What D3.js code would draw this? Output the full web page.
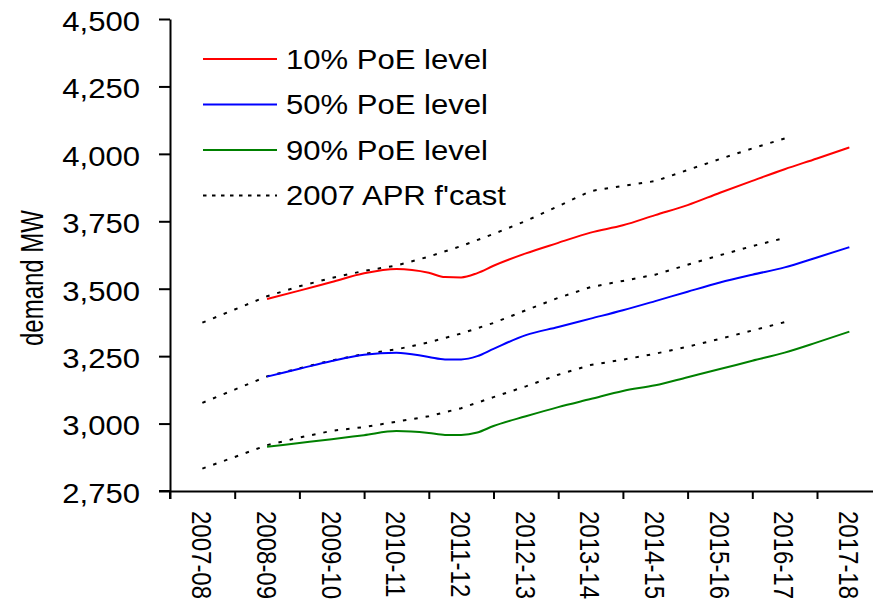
<!DOCTYPE html>
<meta charset="utf-8">
<script src="https://d3js.org/d3.v7.min.js"></script>
<style>
  body { margin: 0; background: #fff; }
  text { font-family: "Liberation Sans", Arial, sans-serif; fill: #000; }
</style>
<div id="chart"></div>
<script>
// categories (financial years)
var years = ["2007-08", "2008-09", "2009-10", "2010-11", "2011-12", "2012-13",
             "2013-14", "2014-15", "2015-16", "2016-17", "2017-18"];

// positions (in years from 2007-08) where the PoE series were read
var poeSteps = [1, 1.5, 2, 2.5, 3, 3.5, 3.75, 4, 4.25, 4.5, 5, 5.5, 6, 6.5, 7, 7.5, 8, 8.5, 9, 9.5, 10];
var poe10 = [3462, 3493, 3525, 3557, 3573, 3559, 3543, 3542, 3558, 3585, 3631, 3670, 3708, 3735, 3773, 3810, 3856, 3900, 3943, 3983, 4024];
var poe50 = [3174, 3203, 3232, 3255, 3263, 3247, 3238, 3238, 3250, 3277, 3328, 3358, 3389, 3420, 3454, 3489, 3523, 3552, 3579, 3616, 3654];
var poe90 = [2914, 2928, 2942, 2957, 2972, 2965, 2958, 2958, 2967, 2991, 3027, 3061, 3091, 3121, 3142, 3172, 3202, 3233, 3263, 3301, 3341];

// 2007 APR forecast (dotted), three levels
var aprSteps = [0, 0.5, 1, 1.5, 2, 2.5, 3, 3.5, 4, 4.5, 5, 5.5, 6, 6.5, 7, 7.5, 8, 8.5, 9];
var apr10 = [3374, 3423, 3472, 3509, 3540, 3566, 3586, 3619, 3658, 3703, 3751, 3806, 3862, 3881, 3899, 3940, 3981, 4020, 4057];
var apr50 = [3077, 3126, 3175, 3205, 3234, 3258, 3275, 3301, 3334, 3373, 3420, 3466, 3506, 3529, 3552, 3589, 3624, 3658, 3688];
var apr90 = [2833, 2876, 2920, 2948, 2973, 2987, 3007, 3027, 3057, 3098, 3138, 3181, 3217, 3237, 3259, 3285, 3314, 3345, 3376];

var yTicks = [2750, 3000, 3250, 3500, 3750, 4000, 4250, 4500];
var legendLabels = ["10% PoE level", "50% PoE level", "90% PoE level", "2007 APR f'cast"];

var W = 873, H = 604;
var sx = 1.15; // the original text is a bit wide
var svg = d3.select("#chart").append("svg")
    .attr("width", W).attr("height", H);

var x = d3.scaleLinear().domain([-0.5, 10.5]).range([170, 881.7]);
var y = d3.scaleLinear().domain([2750, 4500]).range([491, 19]);

// y axis
var yAxis = svg.append("g")
    .attr("transform", "translate(170,0)")
    .call(d3.axisLeft(y).tickValues(yTicks).tickSize(11).tickSizeOuter(0)
        .tickFormat(d3.format(",")));
yAxis.selectAll("text")
    .style("font-size", "27px")
    .attr("x", 0).attr("dy", "0.42em")
    .attr("transform", "translate(-30,0) scale(" + sx + ",1)");

// x axis: ticks at the boundaries
svg.append("g")
    .attr("transform", "translate(0,491)")
    .call(d3.axisBottom(x).tickValues(d3.range(-0.5, 11, 1)).tickSize(8)
        .tickSizeOuter(0).tickFormat(""));
svg.append("line").attr("x1", 159).attr("x2", 170).attr("y1", 491).attr("y2", 491);
svg.append("line").attr("x1", 170).attr("x2", 170).attr("y1", 491).attr("y2", 499);
svg.selectAll("line").attr("stroke", "#000").attr("stroke-width", 2);
svg.selectAll(".domain").attr("stroke-width", 2);

// category labels
var xLab = svg.append("g")
    .attr("transform", "translate(0,491)")
    .call(d3.axisBottom(x).tickValues(d3.range(0, 11)).tickSize(0)
        .tickFormat(function (i) { return years[i]; }));
xLab.select(".domain").remove();
xLab.selectAll("text")
    .style("font-size", "24px")
    .attr("text-anchor", "start")
    .attr("x", 0).attr("y", 0).attr("dy", "0.35em")
    .attr("transform", "translate(-1,20) scale(" + sx + ",1) rotate(90)");

// y axis title
svg.append("text")
    .attr("transform", "translate(32,278) scale(1.3,1) rotate(-90)")
    .attr("text-anchor", "middle")
    .attr("dy", "0.35em")
    .style("font-size", "24px")
    .text("demand MW");

function lineFor(steps, curve) {
  return d3.line()
      .x(function (d, i) { return x(steps[i]); })
      .y(function (d) { return y(d); })
      .curve(curve);
}

var poeLine = lineFor(poeSteps, d3.curveMonotoneX);
var aprLine = lineFor(aprSteps, d3.curveLinear);

[apr10, apr50, apr90].forEach(function (s) {
  svg.append("path").datum(s).attr("d", aprLine)
      .attr("fill", "none").attr("stroke", "#000")
      .attr("stroke-width", 2).attr("stroke-dasharray", "3.5,8");
});

var poeSeries = [[poe10, "#ff0000"], [poe50, "#0000ff"], [poe90, "#008000"]];
poeSeries.forEach(function (s) {
  svg.append("path").datum(s[0]).attr("d", poeLine)
      .attr("fill", "none").attr("stroke", s[1]).attr("stroke-width", 2);
});

// legend
var legendColors = ["#ff0000", "#0000ff", "#008000", "#000"];
var lg = svg.append("g");
legendLabels.forEach(function (t, i) {
  var ry = 59 + i * 45.5;
  lg.append("line").attr("x1", 203).attr("x2", 277).attr("y1", ry).attr("y2", ry)
      .attr("stroke", legendColors[i]).attr("stroke-width", 2)
      .attr("stroke-dasharray", i === 3 ? "3.5,5.5" : null);
  lg.append("text")
      .attr("transform", "translate(286," + (ry + 9.5) + ") scale(" + sx + ",1)")
      .style("font-size", "27px").text(t);
});
</script>
